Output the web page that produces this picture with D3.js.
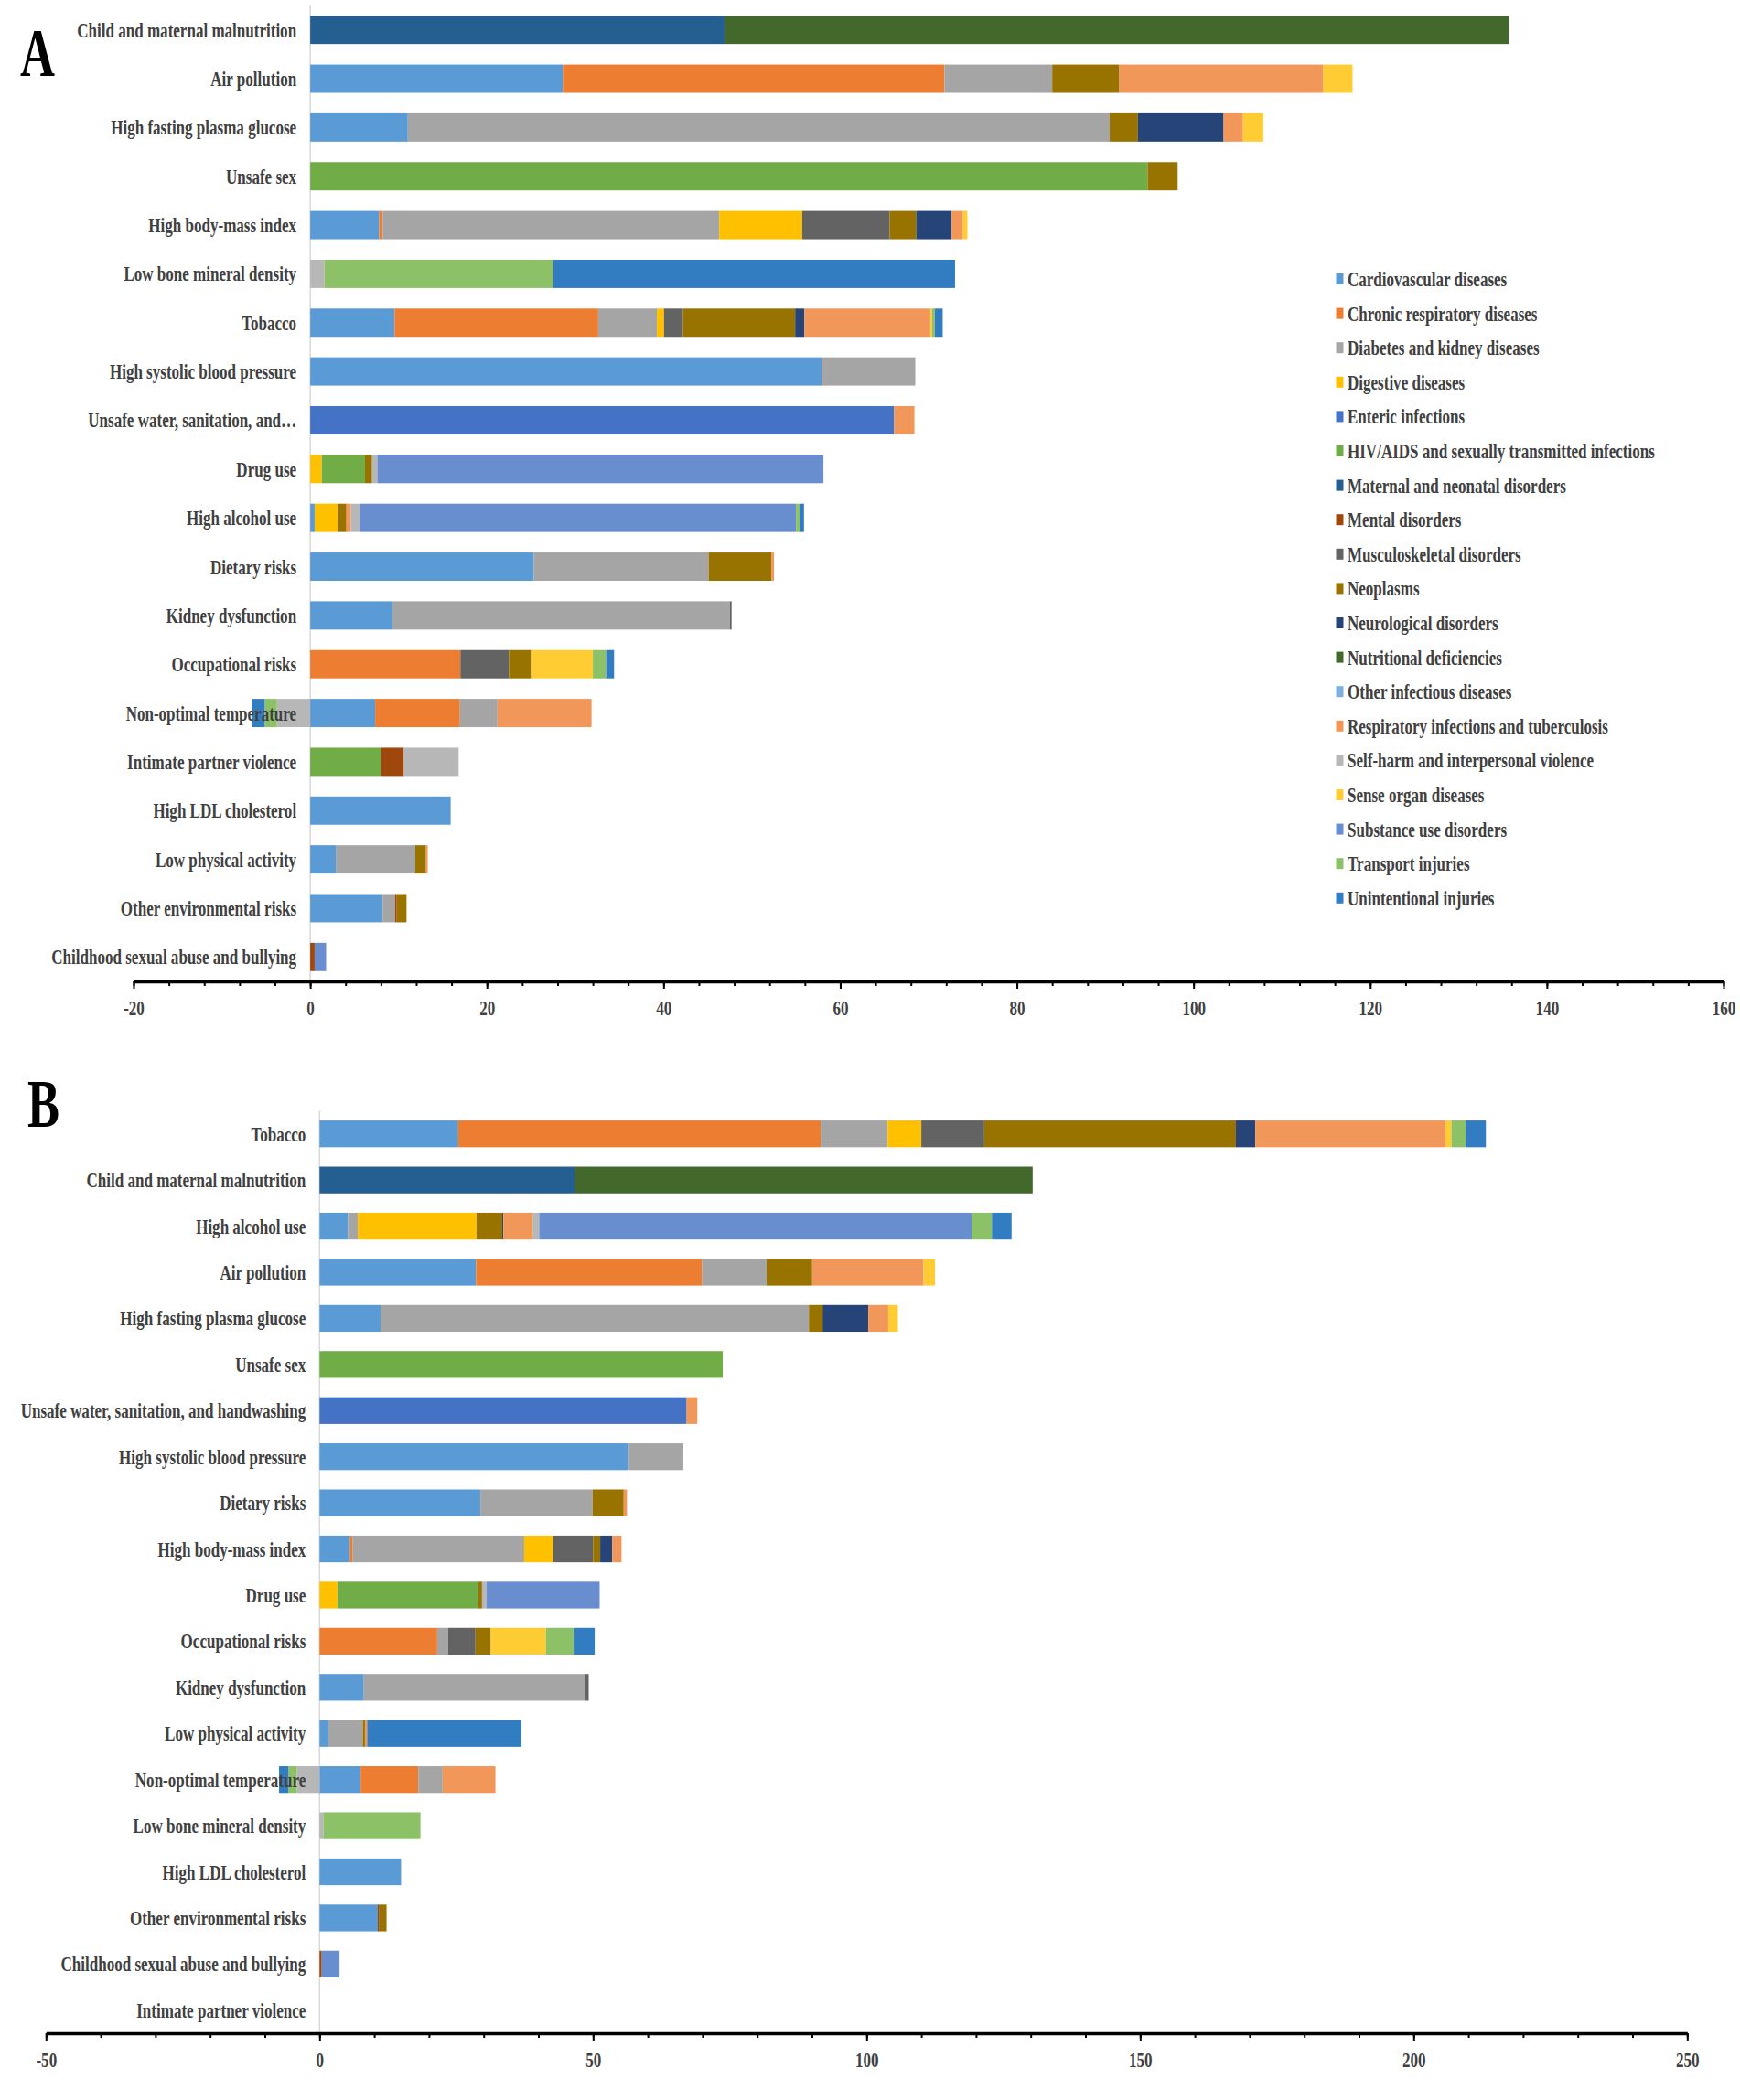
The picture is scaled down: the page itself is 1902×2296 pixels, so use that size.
<!DOCTYPE html>
<html>
<head>
<meta charset="utf-8">
<script src="https://cdn.jsdelivr.net/npm/d3@7"></script>
<style>
  body { margin: 0; background: #fff; }
  svg text { font-family: "Liberation Serif", "Times New Roman", serif; }
</style>
</head>
<body>
<div class="chart"></div>
<script>
// Causes (stack order = legend order)
const causes = [
    "Cardiovascular diseases", "Chronic respiratory diseases", "Diabetes and kidney diseases",
    "Digestive diseases", "Enteric infections", "HIV/AIDS and sexually transmitted infections",
    "Maternal and neonatal disorders", "Mental disorders", "Musculoskeletal disorders",
    "Neoplasms", "Neurological disorders", "Nutritional deficiencies", "Other infectious diseases",
    "Respiratory infections and tuberculosis", "Self-harm and interpersonal violence",
    "Sense organ diseases", "Substance use disorders", "Transport injuries", "Unintentional injuries"
];
const causeColors = [
    "#5B9BD5", "#ED7D31", "#A5A5A5", "#FFC000", "#4472C4", "#70AD47", "#255E91", "#9E480E",
    "#636363", "#997300", "#264478", "#43682B", "#7CAFDD", "#F1975A", "#B7B7B7", "#FFCD33",
    "#698ED0", "#8CC168", "#327DC2"
];

// Panel A
const risksA = [
    "Child and maternal malnutrition", "Air pollution", "High fasting plasma glucose", "Unsafe sex",
    "High body-mass index", "Low bone mineral density", "Tobacco", "High systolic blood pressure",
    "Unsafe water, sanitation, and\u2026", "Drug use", "High alcohol use", "Dietary risks",
    "Kidney dysfunction", "Occupational risks", "Non-optimal temperature", "Intimate partner violence",
    "High LDL cholesterol", "Low physical activity", "Other environmental risks",
    "Childhood sexual abuse and bullying"
];
const ticksA = [-20, 0, 20, 40, 60, 80, 100, 120, 140, 160];
//  CVD    CRD    DKD   Dig  Ent   HIV   Mat   Men  Mus   Neo   Neu  Nut  OID  RIT    SH     SOD  SUD   Tra    UI
const valuesA = [
    [0,     0,     0,     0,   0,    0,    46.9, 0,   0,    0,    0,   88.8, 0, 0,     0,     0,   0,    0,     0],
    [28.6,  43.2,  12.2,  0,   0,    0,    0,    0,   0,    7.6,  0,   0,   0,  23.1,  0,     3.3, 0,    0,     0],
    [11.05, 0,     79.45, 0,   0,    0,    0,    0,   0,    3.2,  9.7, 0,   0,  2.2,   0,     2.3, 0,    0,     0],
    [0,     0,     0,     0,   0,    94.8, 0,    0,   0,    3.4,  0,   0,   0,  0,     0,     0,   0,    0,     0],
    [7.8,   0.4,   38.1,  9.4, 0,    0,    0,    0,   9.9,  3.0,  4.0, 0,   0,  1.3,   0,     0.5, 0,    0,     0],
    [0,     0,     0,     0,   0,    0,    0,    0,   0,    0,    0,   0,   0,  0,     1.6,   0,   0,    25.9,  45.5],
    [9.55,  23.05, 6.65,  0.8, 0,    0,    0,    0,   2.15, 12.7, 1.05, 0,  0,  14.25, 0,     0.2, 0,    0.3,   0.9],
    [57.9,  0,     10.6,  0,   0,    0,    0,    0,   0,    0,    0,   0,   0,  0,     0,     0,   0,    0,     0],
    [0,     0,     0,     0,   66.1, 0,    0,    0,   0,    0,    0,   0,   0,  2.3,   0,     0,   0,    0,     0],
    [0,     0,     0,     1.3, 0,    4.9,  0,    0,   0,    0.8,  0,   0,   0,  0,     0.6,   0,   50.5, 0,     0],
    [0.5,   0,     0,     2.6, 0,    0,    0,    0,   0,    1.0,  0,   0,   0,  0.5,   1.0,   0,   49.4, 0.4,   0.5],
    [25.3,  0,     19.8,  0,   0,    0,    0,    0,   0,    7.1,  0,   0,   0,  0.3,   0,     0,   0,    0,     0],
    [9.3,   0,     38.2,  0,   0,    0,    0,    0,   0.2,  0,    0,   0,   0,  0,     0,     0,   0,    0,     0],
    [0,     17.0,  0,     0,   0,    0,    0,    0,   5.5,  2.5,  0,   0,   0,  0,     0,     7.0, 0,    1.5,   0.9],
    [7.35,  9.6,   4.25,  0,   0,    0,    0,    0,   0,    0,    0,   0,   0,  10.65, -3.77, 0,   0,    -1.38, -1.45],
    [0,     0,     0,     0,   0,    8.0,  0,    2.6, 0,    0,    0,   0,   0,  0,     6.2,   0,   0,    0,     0],
    [15.9,  0,     0,     0,   0,    0,    0,    0,   0,    0,    0,   0,   0,  0,     0,     0,   0,    0,     0],
    [2.9,   0,     9.0,   0,   0,    0,    0,    0,   0,    1.2,  0,   0,   0,  0.2,   0,     0,   0,    0,     0],
    [8.2,   0,     1.4,   0,   0,    0,    0,    0.2, 0,    1.1,  0,   0,   0,  0,     0,     0,   0,    0,     0],
    [0,     0,     0,     0,   0,    0,    0,    0.5, 0,    0,    0,   0,   0,  0,     0,     0,   1.3,  0,     0]
];

// Panel B
const risksB = [
    "Tobacco", "Child and maternal malnutrition", "High alcohol use", "Air pollution",
    "High fasting plasma glucose", "Unsafe sex", "Unsafe water, sanitation, and handwashing",
    "High systolic blood pressure", "Dietary risks", "High body-mass index", "Drug use",
    "Occupational risks", "Kidney dysfunction", "Low physical activity", "Non-optimal temperature",
    "Low bone mineral density", "High LDL cholesterol", "Other environmental risks",
    "Childhood sexual abuse and bullying", "Intimate partner violence"
];
const ticksB = [-50, 0, 50, 100, 150, 200, 250];
//  CVD    CRD    DKD   Dig   Ent   HIV    Mat    Men  Mus   Neo   Neu   Nut   OID RIT    SH     SOD   SUD    Tra    UI
const valuesB = [
    [25.35, 66.25, 12.25, 6.15, 0,    0,     0,     0,   11.5, 46.0, 3.55, 0,    0, 34.75, 0,     1.1,  0,     2.6,   3.7],
    [0,     0,     0,     0,    0,    0,     46.65, 0,   0,    0,    0,    83.7, 0, 0,     0,     0,    0,     0,     0],
    [5.2,   0,     1.8,   21.7, 0,    0,     0,     0,   0,    4.7,  0.2,  0,    0, 5.35,  1.2,   0,    79.05, 3.7,   3.6],
    [28.6,  41.3,  11.8,  0,    0,    0,     0,     0,   0,    8.35, 0,    0,    0, 20.35, 0,     2.1,  0,     0,     0],
    [11.15, 0,     78.3,  0,    0,    0,     0,     0,   0,    2.5,  8.35, 0,    0, 3.65,  0,     1.75, 0,     0,     0],
    [0,     0,     0,     0,    0,    73.7,  0,     0,   0,    0,    0,    0,    0, 0,     0,     0,    0,     0,     0],
    [0,     0,     0,     0,    67.1, 0,     0,     0,   0,    0,    0,    0,    0, 1.95,  0,     0,    0,     0,     0],
    [56.5,  0,     10.0,  0,    0,    0,     0,     0,   0,    0,    0,    0,    0, 0,     0,     0,    0,     0,     0],
    [29.4,  0,     20.5,  0,    0,    0,     0,     0,   0,    5.7,  0,    0,    0, 0.6,   0,     0,    0,     0,     0],
    [5.5,   0.5,   31.4,  5.3,  0,    0,     0,     0,   7.3,  1.3,  2.2,  0,    0, 1.7,   0,     0,    0,     0,     0],
    [0,     0,     0,     3.35, 0,    25.65, 0,     0,   0,    0.7,  0,    0,    0, 0,     0.8,   0,    20.7,  0,     0],
    [0,     21.5,  2.0,   0,    0,    0,     0,     0,   5.0,  2.8,  0,    0,    0, 0,     0,     10.1, 0,     5.05,  3.85],
    [8.1,   0,     40.5,  0,    0,    0,     0,     0,   0.6,  0,    0,    0,    0, 0,     0,     0,    0,     0,     0],
    [1.6,   0,     6.3,   0,    0,    0,     0,     0,   0,    0.4,  0,    0,    0, 0.4,   0,     0,    0,     0,     28.2],
    [7.5,   10.55, 4.45,  0,    0,    0,     0,     0,   0,    0,    0,    0,    0, 9.65,  -4.16, 0,    0,     -1.54, -1.7],
    [0,     0,     0,     0,    0,    0,     0,     0,   0,    0,    0,    0,    0, 0,     0.7,   0,    0,     17.75, 0],
    [14.9,  0,     0,     0,    0,    0,     0,     0,   0,    0,    0,    0,    0, 0,     0,     0,    0,     0,     0],
    [10.65, 0,     0,     0,    0,    0,     0,     0.3, 0,    1.3,  0,    0,    0, 0,     0,     0,    0,     0,     0],
    [0,     0,     0,     0,    0,    0,     0,     0.4, 0,    0,    0,    0,    0, 0,     0,     0,    3.25,  0,     0],
    [0,     0,     0,     0,    0,    0,     0,     0,   0,    0,    0,    0,    0, 0,     0,     0,    0,     0,     0]
];

const W = 1902, H = 2296;
const squeeze = 0.71;      // the original figure text is horizontally condensed
const textColor = "#404040";

const svg = d3.select(".chart").append("svg")
    .attr("width", W)
    .attr("height", H);

const color = d3.scaleOrdinal().domain(causes).range(causeColors);

function drawPanel(risks, values, ticks, minorStep, xRange, yRange, letter, letterPos) {
    let rows = risks.map((r, i) => {
        let o = {risk: r};
        causes.forEach((c, j) => o[c] = values[i][j]);
        return o;
    });

    let stacked = d3.stack().keys(causes).offset(d3.stackOffsetDiverging)(rows);

    let x = d3.scaleLinear().domain([ticks[0], ticks[ticks.length - 1]]).range(xRange);
    let y = d3.scaleBand().domain(risks).range(yRange).paddingInner(0.42).paddingOuter(0.21);

    let g = svg.append("g");

    // Vertical zero line
    g.append("line")
        .attr("x1", x(0)).attr("x2", x(0))
        .attr("y1", yRange[0]).attr("y2", yRange[1])
        .attr("stroke", "#d9d9d9").attr("stroke-width", 1.5);

    // Stacked bars
    g.append("g").selectAll("g")
        .data(stacked)
        .join("g")
        .attr("fill", d => color(d.key))
        .selectAll("rect")
        .data(d => d.filter(p => p[1] !== p[0]))
        .join("rect")
        .attr("x", d => x(Math.min(d[0], d[1])))
        .attr("width", d => Math.abs(x(d[1]) - x(d[0])))
        .attr("y", d => y(d.data.risk))
        .attr("height", y.bandwidth());

    // Category labels (on top of the negative bars, as in the original)
    g.append("g").selectAll("text")
        .data(risks)
        .join("text")
        .attr("text-anchor", "end")
        .attr("font-size", 24)
        .attr("font-weight", "bold")
        .attr("fill", textColor)
        .attr("transform", d => "translate(" + (x(0) - 15) + "," + (y(d) + y.bandwidth() / 2 + 8) + ") scale(" + squeeze + ",1)")
        .text(d => d);

    // X axis: minor ticks then major ticks with labels
    let axisY = yRange[1];
    let minor = g.append("g")
        .attr("transform", "translate(0," + axisY + ")")
        .call(d3.axisBottom(x).tickValues(d3.range(ticks[0], ticks[ticks.length - 1] + 0.1, minorStep))
            .tickSize(5).tickFormat(""));
    minor.select(".domain").remove();
    minor.selectAll("line").attr("stroke", "#000").attr("stroke-width", 2);

    let major = g.append("g")
        .attr("transform", "translate(0," + axisY + ")")
        .call(d3.axisBottom(x).tickValues(ticks).tickSize(8).tickSizeOuter(0).tickPadding(12)
            .tickFormat(d => String(d)));
    major.select(".domain").attr("stroke", "#000").attr("stroke-width", 3.5);
    major.selectAll("line").attr("stroke", "#000").attr("stroke-width", 2);
    major.selectAll("text")
        .attr("font-family", "Liberation Serif, Times New Roman, serif")
        .attr("font-size", 24)
        .attr("font-weight", "bold")
        .attr("fill", textColor)
        .attr("transform", "scale(" + squeeze + ",1)");

    // Panel letter
    svg.append("text")
        .attr("font-size", 74)
        .attr("font-weight", "bold")
        .attr("fill", "#000")
        .attr("transform", "translate(" + letterPos[0] + "," + letterPos[1] + ") scale(" + squeeze + ",1)")
        .text(letter);
}

drawPanel(risksA, valuesA, ticksA, 4, [146, 1884], [6, 1073], "A", [22, 83]);
drawPanel(risksB, valuesB, ticksB, 10, [50.3, 1844.3], [1214.5, 2223], "B", [30, 1232]);

// Legend (panel A)
let legend = svg.append("g").selectAll("g")
    .data(causes)
    .join("g")
    .attr("transform", (d, i) => "translate(1460," + (313 + i * 37.6) + ")");

legend.append("rect")
    .attr("x", 0.5).attr("y", -14)
    .attr("width", 8).attr("height", 12)
    .attr("fill", d => color(d));

legend.append("text")
    .attr("font-size", 24)
    .attr("font-weight", "bold")
    .attr("fill", textColor)
    .attr("transform", "translate(13,0) scale(" + squeeze + ",1)")
    .text(d => d);
</script>
</body>
</html>
